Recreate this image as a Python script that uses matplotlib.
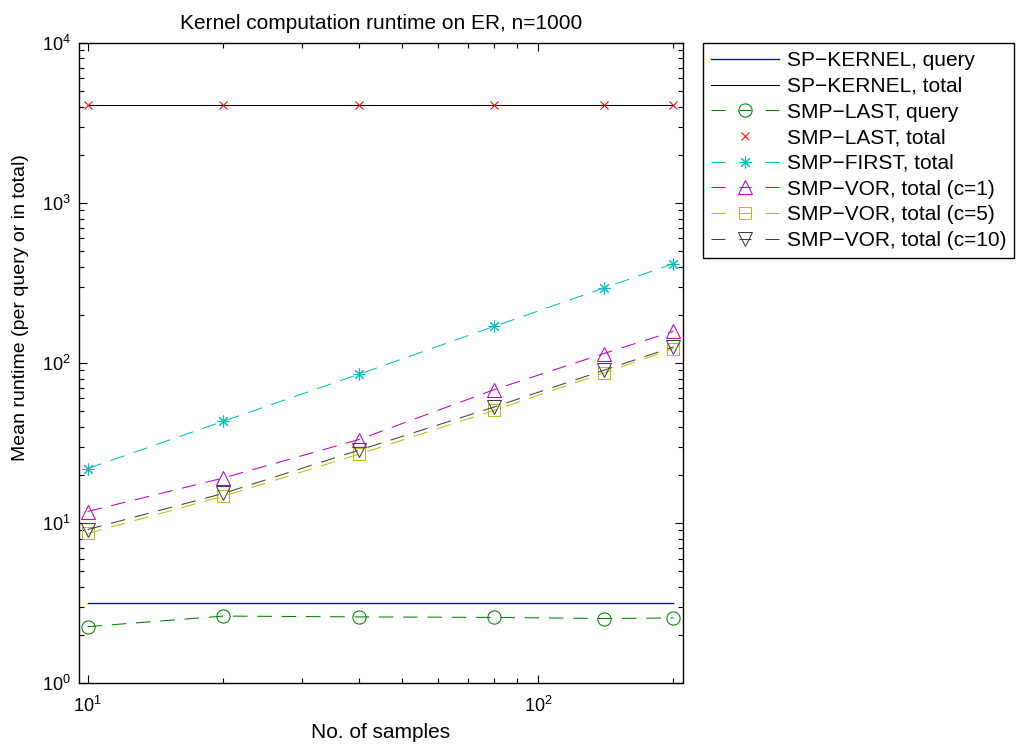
import matplotlib
matplotlib.use("Agg")
import matplotlib.pyplot as plt
import numpy as np

plt.rcParams['font.family'] = ['Liberation Sans', 'DejaVu Sans']
plt.rcParams['mathtext.default'] = 'regular'
plt.rcParams['lines.scale_dashes'] = False

# number of samples
samples = [10, 20, 40, 80, 140, 200]

# mean runtimes
sp_kernel_query = [3.15, 3.15, 3.15, 3.15, 3.15, 3.15]
sp_kernel_total = [4100, 4100, 4100, 4100, 4100, 4100]
smp_last_query = [2.25, 2.62, 2.59, 2.57, 2.53, 2.55]
smp_last_total = [4100, 4100, 4100, 4100, 4100, 4100]
smp_first_total = [21.9, 43.2, 85.0, 169.5, 294, 418]
smp_vor_c1 = [11.8, 19.1, 33.2, 68.2, 114.5, 157.8]
smp_vor_c5 = [8.6, 14.7, 26.9, 50.6, 86.6, 123]
smp_vor_c10 = [9.1, 15.3, 28.5, 53.1, 90, 126]

labels = ["SP\u2212KERNEL, query", "SP\u2212KERNEL, total",
          "SMP\u2212LAST, query", "SMP\u2212LAST, total",
          "SMP\u2212FIRST, total", "SMP\u2212VOR, total (c=1)",
          "SMP\u2212VOR, total (c=5)", "SMP\u2212VOR, total (c=10)"]

FS = 15
TICK_FS = 13
dash = (10.5, 7)

fig = plt.figure(figsize=(10.19, 7.49), dpi=100)
ax = fig.add_axes([0.0775, 0.0881, 0.5928, 0.8545])

common = dict(lw=0.75, mfc='none', mew=0.75)
ax.plot(samples, sp_kernel_query, color=(0, 0, 1), ls='-', label=labels[0],
        lw=1.0, mfc='none')
ax.plot(samples, sp_kernel_total, color=(0, 0, 0), ls='-', label=labels[1], **common)
ax.plot(samples, smp_last_query, color=(0, 0.5, 0), ls='--', dashes=dash,
        marker='o', ms=9.5, label=labels[2], **common)
ax.plot(samples, smp_last_total, color=(1, 0, 0), ls='none',
        marker='x', ms=6, label=labels[3], **common)
ax.plot(samples, smp_first_total, color=(0, 0.75, 0.75), ls='--', dashes=dash,
        marker=(8, 2, 0), ms=8.5, label=labels[4], **common)
ax.plot(samples, smp_vor_c1, color=(0.75, 0, 0.75), ls='--', dashes=dash,
        marker='^', ms=10.5, label=labels[5], **common)
ax.plot(samples, smp_vor_c5, color=(0.75, 0.75, 0), ls='--', dashes=dash,
        marker='s', ms=8, label=labels[6], **common)
ax.plot(samples, smp_vor_c10, color=(0.25, 0.25, 0.25), ls='--', dashes=dash,
        marker='v', ms=10.5, label=labels[7], **common)

ax.set_xscale('log')
ax.set_yscale('log')
ax.set_xlim(9.57, 210)
ax.set_ylim(1, 1e4)

ax.tick_params(which='both', direction='in', top=True, right=True,
               labelsize=TICK_FS, width=0.8)
ax.tick_params(which='major', length=6, pad=6)
ax.tick_params(which='minor', length=3.5)
ax.tick_params(axis='x', which='major', pad=9)
for s in ax.spines.values():
    s.set_linewidth(1.0)

ax.set_title("Kernel computation runtime on ER, n=1000", fontsize=FS, pad=10)
ax.set_xlabel("No. of samples", fontsize=FS)
ax.set_ylabel("Mean runtime (per query or in total)", fontsize=14)
ax.xaxis.label.set_va('center')
ax.xaxis.set_label_coords(0.5, -0.0781)
ax.yaxis.label.set_va('center')
ax.yaxis.set_label_coords(-0.097, 0.586)

leg = ax.legend(loc='upper left', bbox_to_anchor=(1.033, 1.0), borderaxespad=0,
                fontsize=FS, handlelength=3.27, handletextpad=0.34,
                labelspacing=0.32, borderpad=0.4, fancybox=False,
                framealpha=1, edgecolor='black')
leg.get_frame().set_linewidth(1.0)
# legend samples: dash at each end, short dash through the marker
for h in leg.get_lines():
    if h.get_linestyle() == '--':
        h.set_dashes((10.1, 10.1, 8.6, 10.1))

fig.savefig("out.png", dpi=100)
